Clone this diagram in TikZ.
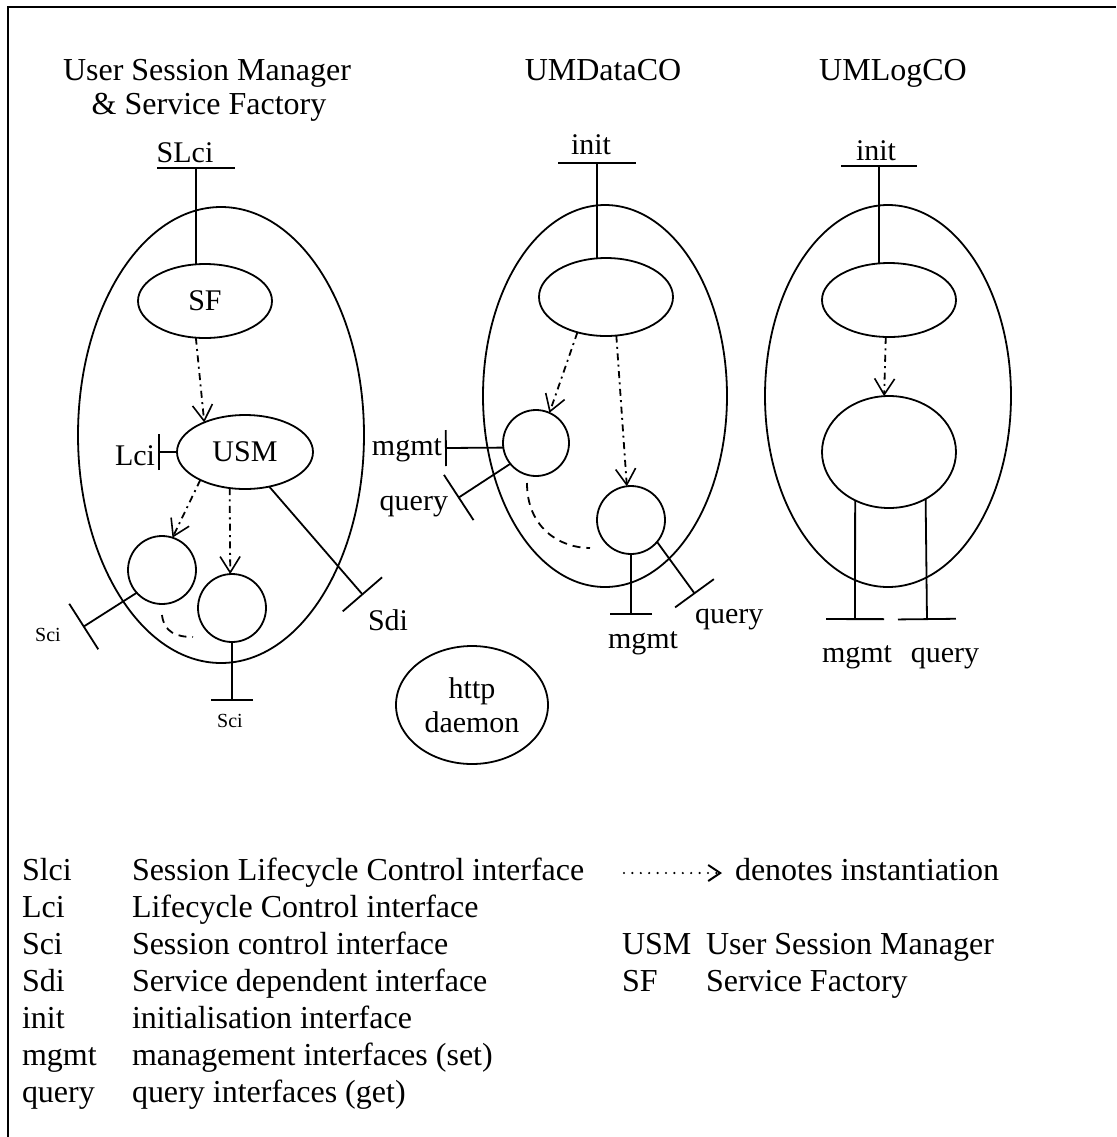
\documentclass[tikz,border=0pt]{standalone}
\usepackage{fontspec}
\setmainfont{Liberation Serif}
\usetikzlibrary{arrows.meta,shapes.geometric}
\begin{document}
\begin{tikzpicture}[x=0.5pt,y=-0.5pt,
  every node/.style={inner sep=0pt, outer sep=0pt},
  shp/.style={draw, ellipse, line width=0.9pt, inner sep=0pt},
  crc/.style={draw, circle, line width=0.9pt, inner sep=0pt, minimum size=34pt},
  inst/.style={line width=0.9pt, dash pattern=on 3.5pt off 2.2pt on 1pt off 2.2pt,
    -{Straight Barb[length=8pt,width=10pt,line width=0.8pt]}},
  curv/.style={line width=0.9pt, dash pattern=on 4pt off 3pt},
  tee/.style={line width=0.9pt, -{Bar[width=#1]}},
  big/.style={font=\fontsize{16}{18}\selectfont},
  lab/.style={font=\fontsize{15}{17}\selectfont},
  tiny/.style={font=\fontsize{10}{12}\selectfont},
]
\useasboundingbox (0,0) rectangle (1116,1137);
\draw[line width=1pt] (1116,7) -- (8,7) -- (8,1137);

% titles
\node[big, anchor=base] (t1a) at (207,80) {User Session Manager};
\node[big, anchor=base] (t1b) at (209,114) {\& Service Factory};
\node[big, anchor=base] (t2) at (603,80) {UMDataCO};
\node[big, anchor=base] (t3) at (893,80) {UMLogCO};

% ---------- left component ----------
\node[shp, minimum width=143pt, minimum height=228pt] (bigL) at (221,435) {};
\node[shp, lab, minimum width=67pt, minimum height=37pt] (SF) at (205,301) {SF};
\node[shp, lab, minimum width=68pt, minimum height=37pt] (USM) at (245,452) {USM};
\node[crc] (c1) at (162,570) {};
\node[crc] (c2) at (232,608) {};

\coordinate (slciT) at (196,167);
\node[lab, anchor=base] (slciL) at (185,162) {SLci};
\draw[tee=39pt] (slciT |- SF.north) -- (slciT);

\coordinate (lciT) at (158,452);
\draw[tee=18pt] (USM.west) -- (lciT);
\node[lab, anchor=base east] (lciL) at (155,465) {Lci};

\draw[inst] (SF.256) -- (USM.144);
\draw[inst] (USM.212) -- (c1.72);
\draw[inst] (USM.247) -- (c2.93);

\coordinate (sdiT) at (363,595);
\draw[tee=26pt] (USM.305) -- (sdiT);
\node[lab, anchor=base west] (sdiL) at (368,630) {Sdi};

\coordinate (sci1T) at (83,627);
\draw[tee=27pt] (c1.222) -- (sci1T);
\node[tiny, anchor=base] (sci1L) at (48,641) {Sci};

\coordinate (sci2T) at (232,701);
\draw[tee=21pt] (c2.south) -- (sci2T);
\node[tiny, anchor=base] (sci2L) at (230,727) {Sci};

\coordinate (d1s) at (162,615);
\coordinate (d1e) at (193,637);
\draw[curv] (d1s) .. controls (164,632) and (176,637) .. (d1e);

% ---------- middle component ----------
\node[shp, minimum width=122pt, minimum height=191pt] (bigM) at (605,396) {};
\node[shp, minimum width=67pt, minimum height=39pt] (eM) at (606,297) {};
\node[crc, minimum size=33pt] (cA) at (536,443) {};
\node[crc] (cB) at (631,520) {};

\coordinate (initMT) at (597,162);
\draw[tee=39pt] (initMT |- eM.north) -- (initMT);
\node[lab, anchor=base] (initML) at (591,154) {init};

\draw[inst] (eM.231) -- (cA.66);
\draw[inst] (eM.285) -- (cB.97);

\coordinate (mgAT) at (445,448);
\draw[tee=18pt] (cA.188) -- (mgAT);
\node[lab, anchor=base east] (mgAL) at (442,455) {mgmt};

\coordinate (qAT) at (458,498);
\draw[tee=27pt] (cA.219) -- (qAT);
\node[lab, anchor=base east] (qAL) at (448,510) {query};

\coordinate (d2s) at (527,483);
\coordinate (d2e) at (590,548);
\draw[curv] (d2s) .. controls (527,528) and (560,548) .. (d2e);

\coordinate (mgBT) at (631,615);
\draw[tee=21pt] (cB.south) -- (mgBT);
\node[lab, anchor=base] (mgBL) at (643,648) {mgmt};

\coordinate (qBT) at (695,594);
\draw[tee=24pt] (cB.320) -- (qBT);
\node[lab, anchor=base west] (qBL) at (695,623) {query};

% ---------- right component ----------
\node[shp, minimum width=123pt, minimum height=191pt] (bigR) at (888,396) {};
\node[shp, minimum width=67pt, minimum height=37pt] (eR) at (889,300) {};
\node[shp, minimum width=67pt, minimum height=56pt] (cR) at (889,452) {};

\coordinate (initRT) at (879,165);
\draw[tee=38pt] (initRT |- eR.north) -- (initRT);
\node[lab, anchor=base] (initRL) at (876,160) {init};

\draw[inst] (eR.265) -- (cR.95);

\coordinate (mgRT) at (855,620);
\coordinate (qRT) at (927,620);
\draw[tee=29pt] (cR.235) -- (mgRT);
\draw[tee=29pt] (cR.308) -- (qRT);
\node[lab, anchor=base] (mgRL) at (857,662) {mgmt};
\node[lab, anchor=base] (qRL) at (945,662) {query};

% ---------- http daemon ----------
\node[shp, lab, align=center, minimum width=76pt, minimum height=59pt] (http) at (472,705) {http\\daemon};

% ---------- legend ----------
\node[big, anchor=base west] (k1) at (22,880) {Slci};
\node[big, anchor=base west] (v1) at (132,880) {Session Lifecycle Control interface};
\node[big, anchor=base west] (k2) at (22,917) {Lci};
\node[big, anchor=base west] (v2) at (132,917) {Lifecycle Control interface};
\node[big, anchor=base west] (k3) at (22,954) {Sci};
\node[big, anchor=base west] (v3) at (132,954) {Session control interface};
\node[big, anchor=base west] (k4) at (22,991) {Sdi};
\node[big, anchor=base west] (v4) at (132,991) {Service dependent interface};
\node[big, anchor=base west] (k5) at (22,1028) {init};
\node[big, anchor=base west] (v5) at (132,1028) {initialisation interface};
\node[big, anchor=base west] (k6) at (22,1065) {mgmt};
\node[big, anchor=base west] (v6) at (132,1065) {management interfaces (set)};
\node[big, anchor=base west] (k7) at (22,1102) {query};
\node[big, anchor=base west] (v7) at (132,1102) {query interfaces (get)};

\coordinate (ia) at (624,873);
\coordinate (ib) at (722,873);
\draw[line width=1.2pt, line cap=round, dash pattern=on 0pt off 4.2pt,
  -{Straight Barb[length=6pt,width=8pt,line width=1pt]}] (ia) -- (ib);
\node[big, anchor=base west] (inst) at (735,880) {denotes instantiation};
\node[big, anchor=base west] (k8) at (622,954) {USM};
\node[big, anchor=base west] (v8) at (706,954) {User Session Manager};
\node[big, anchor=base west] (k9) at (622,991) {SF};
\node[big, anchor=base west] (v9) at (706,991) {Service Factory};
\end{tikzpicture}
\end{document}
